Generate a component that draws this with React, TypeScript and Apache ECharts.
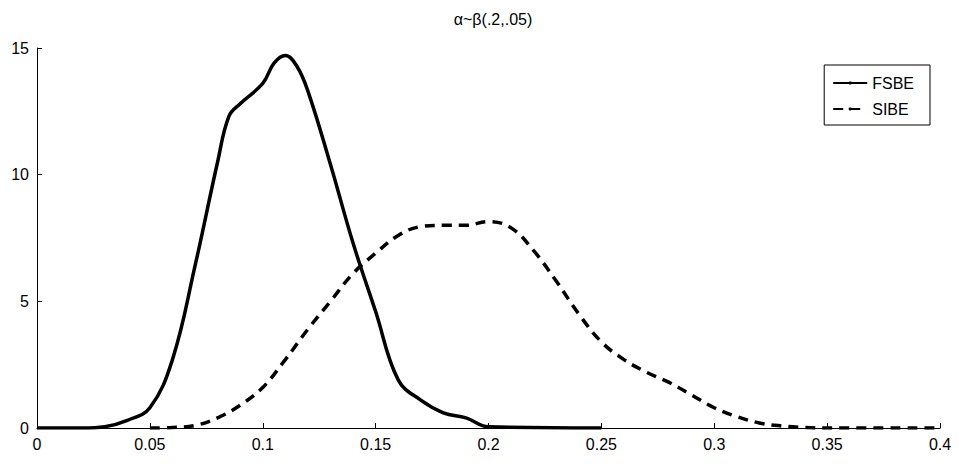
import React, { useEffect, useRef } from "react";
import * as echarts from "echarts";

const fsbeX = [0, 0.02, 0.03, 0.04, 0.05, 0.06, 0.07, 0.08, 0.085, 0.09, 0.1, 0.105, 0.11, 0.115, 0.12, 0.13, 0.14, 0.15, 0.16, 0.17, 0.18, 0.19, 0.2, 0.25];
const fsbeY = [0, 0, 0.05, 0.3, 0.8, 2.7, 6.4, 10.5, 12.3, 12.8, 13.6, 14.4, 14.7, 14.3, 13.3, 10.4, 7.3, 4.6, 1.9, 1.1, 0.6, 0.4, 0.05, 0];
const sibeX = [0.05, 0.06, 0.07, 0.08, 0.09, 0.1, 0.11, 0.12, 0.13, 0.14, 0.15, 0.16, 0.17, 0.18, 0.19, 0.2, 0.21, 0.22, 0.23, 0.24, 0.25, 0.26, 0.27, 0.28, 0.29, 0.3, 0.31, 0.32, 0.33, 0.34, 0.35, 0.4];
const sibeY = [0, 0.02, 0.1, 0.4, 0.9, 1.6, 2.7, 3.9, 5.0, 6.1, 6.9, 7.6, 7.95, 8.0, 8.0, 8.15, 7.9, 7.0, 5.8, 4.5, 3.4, 2.7, 2.2, 1.8, 1.3, 0.8, 0.45, 0.2, 0.08, 0.02, 0, 0];

const App: React.FC = () => {
  const ref = useRef<HTMLDivElement>(null);
  useEffect(() => {
    if (!ref.current) return;
    const chart = echarts.init(ref.current, undefined, { renderer: "svg" });
    const font = "Liberation Sans, Arial, sans-serif";
    chart.setOption({
      animation: false,
      textStyle: { fontFamily: font },
      title: {
        text: "α~β(.2,.05)",
        left: 480,
        top: -2,
        textAlign: "center",
        textStyle: { fontSize: 16, fontWeight: "normal", color: "#000", fontFamily: font },
      },
      grid: { left: 29, right: 19, top: 40, bottom: 40 },
      legend: {
        orient: "vertical",
        right: 29,
        top: 57,
        itemWidth: 34,
        itemHeight: 4,
        itemGap: 10,
        padding: [10, 16, 8, 8],
        borderColor: "#000",
        borderWidth: 1,
        textStyle: { fontSize: 16, color: "#000", fontFamily: font },
        data: ["FSBE", "SIBE"],
      },
      xAxis: {
        type: "value",
        min: 0,
        max: 0.4,
        interval: 0.05,
        splitLine: { show: false },
        axisLine: { lineStyle: { color: "#000" } },
        axisTick: { inside: true, length: 5, lineStyle: { color: "#000" } },
        axisLabel: { color: "#000", fontSize: 16, fontFamily: font, margin: 8 },
      },
      yAxis: {
        type: "value",
        min: 0,
        max: 15,
        interval: 5,
        splitLine: { show: false },
        axisLine: { show: true, lineStyle: { color: "#000" } },
        axisTick: { show: true, inside: true, length: 5, lineStyle: { color: "#000" } },
        axisLabel: { color: "#000", fontSize: 16, fontFamily: font, margin: 8 },
      },
      series: [
        {
          name: "FSBE",
          type: "line",
          smooth: 0.4,
          showSymbol: false,
          symbol: "none",
          data: fsbeX.map((x, i) => [x, fsbeY[i]]),
          lineStyle: { color: "#000", width: 3.5 },
          itemStyle: { color: "#000" },
        },
        {
          name: "SIBE",
          type: "line",
          smooth: 0.4,
          showSymbol: false,
          symbol: "none",
          data: sibeX.map((x, i) => [x, sibeY[i]]),
          lineStyle: { color: "#000", width: 3.5, type: [10, 7] },
          itemStyle: { color: "#000" },
        },
      ],
    });
    return () => chart.dispose();
  }, []);
  return <div ref={ref} style={{ width: 951, height: 460 }} />;
};

export default App;
